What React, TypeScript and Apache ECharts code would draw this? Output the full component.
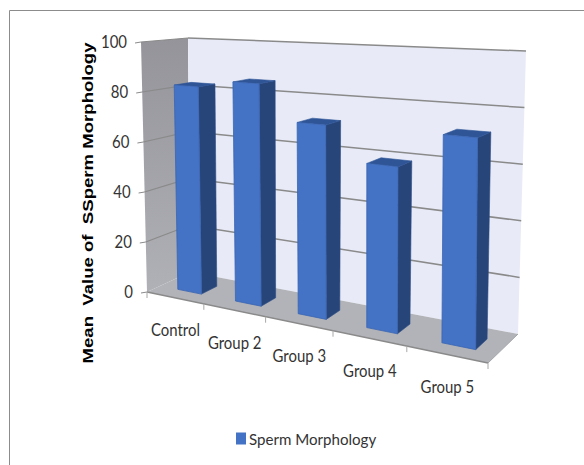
import React, { useEffect, useRef } from "react";
import * as echarts from "echarts";

const CATEGORIES = ["Control", "Group 2", "Group 3", "Group 4", "Group 5"];
const VALUES = [82.5, 85.5, 72, 59.5, 72.5];
const Y_TICKS = [0, 20, 40, 60, 80, 100];
const SERIES_NAME = "Sperm Morphology";
const Y_TITLE = "Mean  Value of  SSperm Morphology";

// Hidden cartesian grid: its scales turn data into fractions of the plot box.
const GRID = { left: 100, top: 40, width: 400, height: 300 };

// Screen corners of the oblique plot box: [x, y] for value 0/100, front/back, left/right.
const BOX = {
  floorFrontLeft: [147, 292],
  floorFrontRight: [488, 363],
  floorBackLeft: [190, 272],
  floorBackRight: [518, 334],
  topFrontLeft: [141, 42],
  topFrontRight: [489, 62],
  topBackLeft: [188, 38],
  topBackRight: [526, 51],
};
const PERSPECTIVE = 1.25; // foreshortening along the category direction
const BAR_DEPTH = [0.31, 0.68]; // bar extent between front and back of the box
const BAR_WIDTH = 0.42; // share of a category band
const BAR_SHIFT = 0.006; // bars sit slightly right of the band centre

const lerp = (a: number, b: number, t: number) => a + (b - a) * t;
const lerp2 = (a: number[], b: number[], t: number) => [lerp(a[0], b[0], t), lerp(a[1], b[1], t)];

// u: 0..1 along categories, v: 0..1 along values, w: 0 front .. 1 back
function project(u: number, v: number, w: number): number[] {
  const p = u / (u + PERSPECTIVE * (1 - u));
  const floorFront = lerp2(BOX.floorFrontLeft, BOX.floorFrontRight, p);
  const floorBack = lerp2(BOX.floorBackLeft, BOX.floorBackRight, p);
  const topFront = lerp2(BOX.topFrontLeft, BOX.topFrontRight, p);
  const topBack = lerp2(BOX.topBackLeft, BOX.topBackRight, p);
  return lerp2(lerp2(floorFront, topFront, v), lerp2(floorBack, topBack, v), w);
}

const fractionX = (x: number) => (x - GRID.left) / GRID.width;
const fractionY = (y: number) => 1 - (y - GRID.top) / GRID.height;

const poly = (points: number[][], style: any) => ({ type: "polygon", shape: { points }, style });
const seg = (a: number[], b: number[], stroke: string, lineWidth: number) => ({
  type: "line",
  shape: { x1: a[0], y1: a[1], x2: b[0], y2: b[1] },
  style: { stroke, lineWidth },
});
// Tall, narrow axis labels: an 18px face squeezed horizontally.
const label = (text: string, x: number, y: number, align: string) => ({
  type: "text",
  x,
  y,
  scaleX: 0.83,
  style: {
    text,
    x: 0,
    y: 0,
    fill: "#333333",
    font: '18px Lato, "Open Sans", sans-serif',
    textAlign: align,
    textVerticalAlign: "middle",
  },
});

const GRID_LINE = "#8a8a8a";

function renderFrame(_params: any, api: any) {
  const children: any[] = [];
  const wall = {
    type: "linear", x: 0, y: 0, x2: 0, y2: 1,
    colorStops: [{ offset: 0, color: "#94949a" }, { offset: 1, color: "#b0b1b6" }],
  };
  children.push(poly([project(0, 0, 0), project(0, 1, 0), project(0, 1, 1), project(0, 0, 1)], { fill: wall }));
  children.push(poly([project(0, 0, 1), project(0, 1, 1), project(1, 1, 1), project(1, 0, 1)], { fill: "#e8ebf7" }));
  children.push(poly([project(0, 0, 0), project(0, 0, 1), project(1, 0, 1), project(1, 0, 0)], { fill: "#b1b3b8" }));

  // Value gridlines run across the side and back walls, with a tick and a label in front.
  Y_TICKS.forEach((tick) => {
    const v = fractionY(api.coord([0, tick])[1]);
    const front = project(0, v, 0);
    const back = project(0, v, 1);
    if (tick > 0) {
      children.push(seg(front, back, GRID_LINE, 1.2));
      children.push(seg(back, project(1, v, 1), GRID_LINE, 1.5));
    }
    children.push(seg([front[0] - 6, front[1] + 1], front, GRID_LINE, 1));
    children.push(label(String(tick), front[0] - 14, front[1] - 1, "right"));
  });

  children.push(seg(project(0, 0, 0), project(1, 0, 0), "#8a8a8a", 1.5));
  children.push(seg(project(1, 0, 0), project(1, 0, 1), "#a4a6aa", 1));

  // Category ticks on the front floor edge, labels centred under each band.
  const band = api.size([1, 0])[0];
  for (let i = 0; i <= CATEGORIES.length; i++) {
    const x = api.coord([0, 0])[0] - band / 2 + band * i;
    const p = project(fractionX(x), 0, 0);
    children.push(seg(p, [p[0], p[1] + 6], "#a8a8a8", 1));
  }
  CATEGORIES.forEach((name, i) => {
    const p = project(fractionX(api.coord([i, 0])[0]), 0, 0);
    const left = project(fractionX(api.coord([i, 0])[0] - band / 2), 0, 0);
    const right = project(fractionX(api.coord([i, 0])[0] + band / 2), 0, 0);
    children.push(label(name, (left[0] + right[0]) / 2, p[1] + 32, "center"));
  });
  return { type: "group", children };
}

function renderBar(_params: any, api: any) {
  const top = api.coord([api.value(0), api.value(1)]);
  const half = (api.size([1, 0])[0] * BAR_WIDTH) / 2;
  const u0 = fractionX(top[0] - half) + BAR_SHIFT;
  const u1 = fractionX(top[0] + half) + BAR_SHIFT;
  const v = fractionY(top[1]);
  const [w0, w1] = BAR_DEPTH;
  return {
    type: "group",
    children: [
      poly([project(u1, 0, w0), project(u1, v, w0), project(u1, v, w1), project(u1, 0, w1)], {
        fill: "#274579", stroke: "#2b4c85", lineWidth: 0.6,
      }),
      poly([project(u0, v, w0), project(u0, v, w1), project(u1, v, w1), project(u1, v, w0)], {
        fill: "#2f5597", stroke: "#2f5597", lineWidth: 0.6,
      }),
      poly([project(u0, 0, w0), project(u0, v, w0), project(u1, v, w0), project(u1, 0, w0)], {
        fill: "#4472c4", stroke: "#3b66b2", lineWidth: 0.8,
      }),
    ],
  };
}

export default function App() {
  const ref = useRef<HTMLDivElement>(null);
  useEffect(() => {
    const chart = echarts.init(ref.current!, undefined, { renderer: "svg" });
    chart.setOption({
      animation: false,
      backgroundColor: "#ffffff",
      grid: { ...GRID },
      xAxis: { type: "category", data: CATEGORIES, show: false },
      yAxis: { type: "value", min: 0, max: 100, interval: 20, show: false },
      legend: {
        data: [{ name: SERIES_NAME, icon: "rect" }],
        left: 231,
        top: 426,
        itemWidth: 10,
        itemHeight: 12,
        itemGap: 3,
        textStyle: { color: "#333333", fontSize: 15.1, fontFamily: 'Lato, "Open Sans", sans-serif', padding: [0, 0, 0, -2] },
      },
      graphic: [
        { type: "line", shape: { x1: 9.5, y1: 10.5, x2: 584, y2: 10.5 }, style: { stroke: "#8c8c8c", lineWidth: 1 } },
        { type: "line", shape: { x1: 9.5, y1: 10.5, x2: 9.5, y2: 465 }, style: { stroke: "#8c8c8c", lineWidth: 1 } },
        {
          type: "text",
          x: 88,
          y: 203,
          rotation: Math.PI / 2,
          scaleX: 1.24,
          style: {
            text: Y_TITLE,
            fill: "#000000",
            font: 'bold 15px "Liberation Sans", Arial, sans-serif',
            textAlign: "center",
            textVerticalAlign: "middle",
          },
        },
      ],
      series: [
        { type: "custom", name: "frame", silent: true, z: 1, data: [[0, 0]], encode: { x: 0, y: 1 }, renderItem: renderFrame },
        {
          type: "custom",
          name: SERIES_NAME,
          z: 2,
          itemStyle: { color: "#4472c4" },
          data: VALUES.map((value, i) => [i, value]),
          encode: { x: 0, y: 1 },
          renderItem: renderBar,
        },
      ],
    });
    return () => chart.dispose();
  }, []);
  return <div ref={ref} style={{ position: "absolute", left: 0, top: 0, width: 584, height: 465 }} />;
}
